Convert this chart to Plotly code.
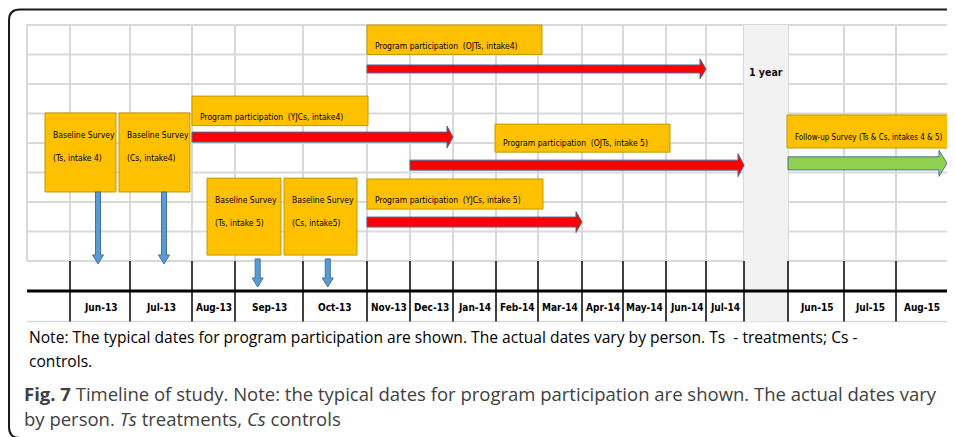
import calendar
from datetime import datetime

import plotly.graph_objects as go

# ---- data ---------------------------------------------------------------
# timeline columns: first one is blank, the blank one after Jul-14 is the "1 year" gap
columns = ["", "Jun-13", "Jul-13", "Aug-13", "Sep-13", "Oct-13", "Nov-13", "Dec-13",
           "Jan-14", "Feb-14", "Mar-14", "Apr-14", "May-14", "Jun-14", "Jul-14",
           "", "Jun-15", "Jul-15", "Aug-15"]
gap_label = "1 year"

prog_names = ["Program participation  (OJTs, intake4)",
              "Program participation  (YJCs, intake4)",
              "Program participation  (OJTs, intake 5)",
              "Program participation  (YJCs, intake 5)"]
prog_start = ["Nov-13", "Aug-13", "Dec-13", "Nov-13"]
prog_end = ["Jun-14", "Dec-13", "Jul-14", "Mar-14"]

survey_line1 = ["Baseline Survey"] * 4
survey_line2 = ["(Ts, intake 4)", "(Cs, intake4)", "(Ts, intake 5)", "(Cs, intake5)"]
survey_dates = ["2013-06-15", "2013-07-18", "2013-09-11", "2013-10-13"]

followup_name = "Follow-up Survey (Ts & Cs, intakes 4 & 5)"
followup_start = "Jun-15"
followup_end = "Aug-15"

note_lines = ["Note: The typical dates for program participation are shown. The actual dates vary by person. Ts  - treatments; Cs -",
              "controls."]
caption_lines = ["<b>Fig. 7</b> Timeline of study. Note: the typical dates for program participation are shown. The actual dates vary",
                 "by person. <i>Ts</i> treatments, <i>Cs</i> controls"]

# ---- layout (pixels / grid rows) ---------------------------------------
W, H = 955, 437
PAGE_PAD = 8             # the html body margin shifts the figure by 8px
col_w = [43, 60, 62, 43, 68, 64, 43, 43, 43, 42, 44, 41, 43, 40, 38, 44, 56, 52, 52]
X0, Y0, ROW_H = 27, 25, 29.5
N_GRID_ROWS = 8          # grey rows above the month axis
gap_col = 15

edges = [X0]
for w in col_w:
    edges.append(edges[-1] + w)

prog_rows = [1.49, 3.8, 4.75, 6.68]
prog_thick = [(4, 10), (5, 11), (5, 11.5), (5, 10.5)]   # half body, half head
prog_boxes = [(367, 542, 0.0, 1.0), (192, 368, 2.41, 3.41),
              (495, 670, 3.36, 4.31), (367, 543, 5.22, 6.24)]
survey_boxes = [(45, 116, 2.98, 5.66), (119, 190, 2.98, 5.66),
                (207, 281, 5.19, 7.8), (284, 357, 5.19, 7.8)]
survey_arrow_rows = [(5.66, 8.1), (5.66, 8.1), (7.93, 8.88), (7.93, 8.88)]
followup_box = (787, 948, 3.05, 4.17)
followup_row = 4.69

ORANGE = "#FFC000"
ORANGE_LINE = "#C29A00"
RED = "#FF0000"
GREEN = "#92D050"
BLUE = "#5B9BD5"
OUTLINE = "#41719C"
GRID = "#D9D9D9"
NARROW = "Liberation Sans Narrow, DejaVu Sans Condensed, Arial Narrow, sans-serif"
BOX_FONT = 8.5


def yrow(r):
    return Y0 + r * ROW_H


def col_index(label):
    return columns.index(label)


def x_date(s):
    d = datetime.strptime(s, "%Y-%m-%d")
    i = col_index(d.strftime("%b-%y"))
    ndays = calendar.monthrange(d.year, d.month)[1]
    return edges[i] + (d.day - 1) / ndays * col_w[i]


def h_arrow(x0, x1, yc, body, head, head_len):
    xs = [x0, x1 - head_len, x1 - head_len, x1, x1 - head_len, x1 - head_len, x0, x0]
    ys = [yc - body, yc - body, yc - head, yc, yc + head, yc + body, yc + body, yc - body]
    return xs, ys


def v_arrow(xc, y0, y1, body, head, head_len):
    xs = [xc - body, xc + body, xc + body, xc + head, xc, xc - head, xc - body, xc - body]
    ys = [y0, y0, y1 - head_len, y1 - head_len, y1, y1 - head_len, y1 - head_len, y0]
    return xs, ys


fig = go.Figure()
shapes = []
annotations = []


def add_shape(**kw):
    kw.setdefault("layer", "below")
    shapes.append(kw)


# frame round the figure (right side runs off the picture)
add_shape(type="path", path="M 970,9.5 L 20,9.5 Q 9,9.5 9,20 L 9,427 Q 9,438 20,438 L 970,438",
          line=dict(color="#1a1a1a", width=2))

# grey grid
grid_bottom = yrow(N_GRID_ROWS)
for k in range(N_GRID_ROWS + 1):
    add_shape(type="line", x0=X0, x1=edges[-1], y0=yrow(k), y1=yrow(k),
              line=dict(color=GRID, width=2))
add_shape(type="line", x0=X0, x1=edges[-1], y0=yrow(10.05), y1=yrow(10.05),
          line=dict(color=GRID, width=1.5))
for e in edges:
    add_shape(type="line", x0=e, x1=e, y0=Y0, y1=grid_bottom,
              line=dict(color=GRID, width=2))

# "1 year" gap band
add_shape(type="rect", x0=edges[gap_col], x1=edges[gap_col + 1],
          y0=Y0, y1=yrow(10.05), fillcolor="#F2F2F2", line=dict(width=0))
annotations.append(dict(x=(edges[gap_col] + edges[gap_col + 1]) / 2, y=yrow(1.6),
                        text="<b>" + gap_label + "</b>", showarrow=False,
                        font=dict(family=NARROW, size=10.5, color="#111111")))

# month axis
axis_y = yrow(9.02)
for e in edges[1:]:
    add_shape(type="line", x0=e, x1=e, y0=grid_bottom, y1=yrow(10.05),
              line=dict(color="black", width=1.5))
add_shape(type="line", x0=X0, x1=edges[-1], y0=axis_y, y1=axis_y,
          line=dict(color="black", width=3))
for i, lab in enumerate(columns):
    if lab:
        annotations.append(dict(x=(edges[i] + edges[i + 1]) / 2, y=yrow(9.57),
                                text="<b>" + lab + "</b>", showarrow=False,
                                font=dict(family=NARROW, size=10, color="black"),
                                xanchor="center", yanchor="middle"))


def add_box(box, lines, offsets, anchor_top, size=BOX_FONT, pad=6):
    x0, x1, r0, r1 = box
    add_shape(type="rect", x0=x0, x1=x1, y0=yrow(r0), y1=yrow(r1),
              fillcolor=ORANGE, line=dict(color=ORANGE_LINE, width=1))
    for txt, off in zip(lines, offsets):
        y = yrow(r0) + off if anchor_top else yrow(r1) - off
        annotations.append(dict(x=x0 + pad, y=y, text=txt, showarrow=False,
                                xanchor="left", yanchor="middle",
                                font=dict(family=NARROW, size=size, color="black")))


# program participation: label boxes + red arrows
for name, s, e, row, box, (bw, hw) in zip(prog_names, prog_start, prog_end, prog_rows,
                                          prog_boxes, prog_thick):
    add_box(box, [name], [9], anchor_top=False)
    xs, ys = h_arrow(edges[col_index(s)], edges[col_index(e) + 1], yrow(row), bw, hw, 6)
    fig.add_trace(go.Scatter(x=xs, y=ys, mode="lines", fill="toself", fillcolor=RED,
                             line=dict(color=OUTLINE, width=1), hoverinfo="skip"))

# baseline surveys: label boxes + blue arrows
for l1, l2, d, box, (ra, rb) in zip(survey_line1, survey_line2, survey_dates,
                                     survey_boxes, survey_arrow_rows):
    add_box(box, [l1, l2], [22, 45], anchor_top=True)
    xs, ys = v_arrow(x_date(d), yrow(ra), yrow(rb), 2.5, 5.5, 9)
    fig.add_trace(go.Scatter(x=xs, y=ys, mode="lines", fill="toself", fillcolor=BLUE,
                             line=dict(color=OUTLINE, width=1), hoverinfo="skip"))

# follow-up survey
add_box(followup_box, [followup_name], [11], anchor_top=False, size=8, pad=6)
xs, ys = h_arrow(edges[col_index(followup_start)], edges[col_index(followup_end) + 1] - 1,
                 yrow(followup_row), 6.5, 13, 8)
fig.add_trace(go.Scatter(x=xs, y=ys, mode="lines", fill="toself", fillcolor=GREEN,
                         line=dict(color=OUTLINE, width=1), hoverinfo="skip"))

# note under the chart and the figure caption
for txt, y in zip(note_lines, [337, 361]):
    annotations.append(dict(x=27, y=y, text=txt, showarrow=False, xanchor="left",
                            yanchor="middle", font=dict(family="Open Sans", size=15.6, color="black")))
for txt, y in zip(caption_lines, [393, 418]):
    annotations.append(dict(x=22, y=y, text=txt, showarrow=False, xanchor="left",
                            yanchor="middle", font=dict(family="Open Sans", size=18.5, color="#404040")))

fig.update_layout(
    width=W, height=H,
    margin=dict(l=0, r=0, t=0, b=0),
    paper_bgcolor="white", plot_bgcolor="white",
    showlegend=False,
    xaxis=dict(range=[PAGE_PAD, W + PAGE_PAD], visible=False, fixedrange=True),
    yaxis=dict(range=[H + PAGE_PAD, PAGE_PAD], visible=False, fixedrange=True),
    shapes=shapes,
    annotations=annotations,
)

fig.write_html("out.html")
